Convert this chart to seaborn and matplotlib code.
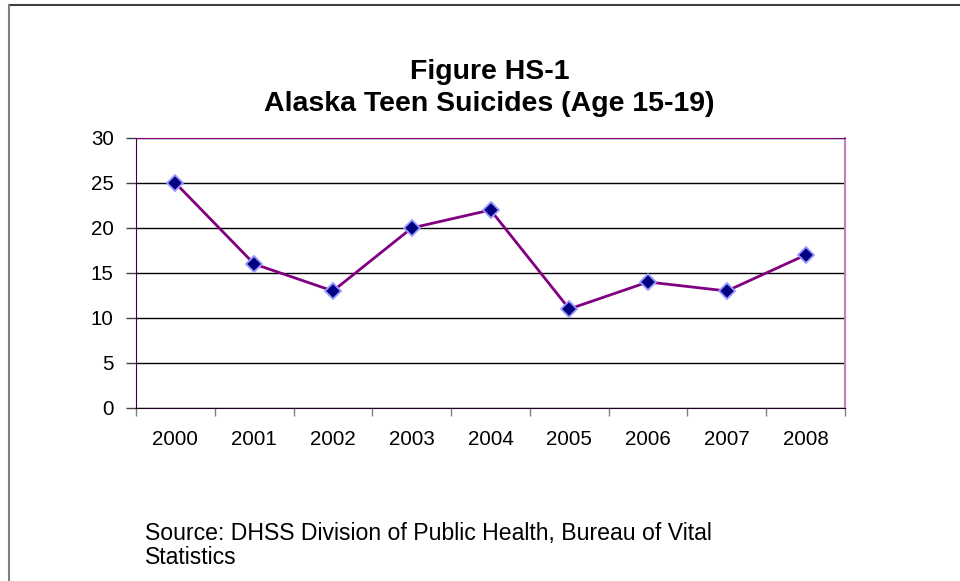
import numpy as np
import pandas as pd
import matplotlib
matplotlib.use("Agg")
import matplotlib.pyplot as plt
from matplotlib.lines import Line2D
import seaborn as sns

# Data

years = ["2000", "2001", "2002", "2003", "2004", "2005", "2006", "2007", "2008"]
suicides = [25, 16, 13, 20, 22, 11, 14, 13, 17]

df = pd.DataFrame({"pos": np.arange(len(years)), "Suicides": suicides})

sns.set_style("white")
plt.rcParams["font.family"] = ["Liberation Sans", "DejaVu Sans"]
plt.rcParams["text.color"] = "black"
plt.rcParams["xtick.color"] = "black"
plt.rcParams["ytick.color"] = "black"

fig = plt.figure(figsize=(9.6, 5.81), dpi=100)
ax = fig.add_axes([0.1417, 0.2978, 0.7385, 0.4647])

sns.lineplot(data=df, x="pos", y="Suicides", ax=ax, color="#800080", linewidth=2,
             marker="D", markersize=8.5, markerfacecolor="#000080",
             markeredgecolor="#9999FF", markeredgewidth=1.3, zorder=3)

# axes look (Excel style)
ax.set_xlim(-0.5, len(years) - 0.5)
ax.set_ylim(0, 30)
ax.set_yticks(range(0, 31, 5))
ax.set_xticks(np.arange(-0.5, len(years), 1.0))
ax.set_xticklabels([])
ax.set_xticks(np.arange(len(years)), minor=True)
ax.set_xticklabels(years, minor=True)
ax.tick_params(axis="x", which="major", direction="out", length=6, width=1,
               color="#808080", bottom=True)
ax.tick_params(axis="x", which="minor", length=0, pad=16, labelsize=14.8)
ax.tick_params(axis="y", direction="out", length=7, width=1, color="#404040",
               left=True, pad=9, labelsize=14.8)
ax.yaxis.grid(True, color="black", linewidth=1)
ax.set_axisbelow(True)
ax.set_xlabel("")
ax.set_ylabel("")

ax.spines["left"].set_color("#400040")
ax.spines["bottom"].set_color("#200020")
ax.spines["top"].set_color("#800080")
ax.spines["right"].set_color("#C080C0")
ax.spines["right"].set_linewidth(1.5)
for s in ax.spines.values():
    s.set_visible(True)

fig.text(0.51, 0.8755, "Figure HS-1", ha="center", va="center",
         fontsize=20.5, fontweight="bold")
fig.text(0.51, 0.8205, "Alaska Teen Suicides (Age 15-19)", ha="center",
         va="center", fontsize=20.5, fontweight="bold")

fig.text(0.151, 0.061, "Source: DHSS Division of Public Health, Bureau of Vital\nStatistics",
         ha="left", va="center", fontsize=16.6, linespacing=1.05)

# outer frame
fig.add_artist(Line2D([0.009, 1.0], [0.991, 0.991], color="#404040", linewidth=1.5))
fig.add_artist(Line2D([0.009, 0.009], [0.0, 0.991], color="#808080", linewidth=1.5))

fig.savefig("out.png", dpi=100)
